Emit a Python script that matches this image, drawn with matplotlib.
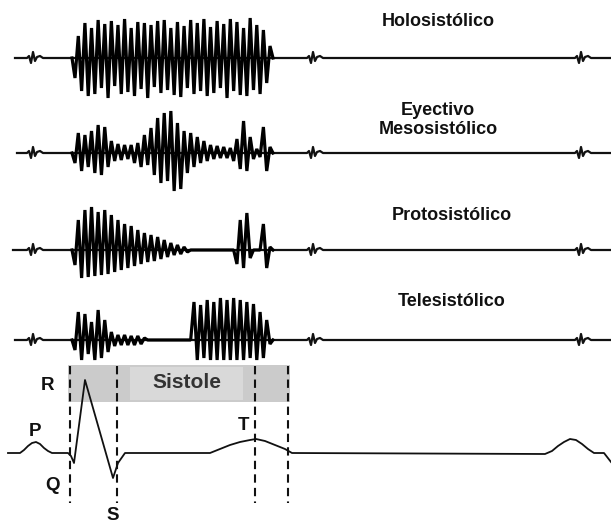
import numpy as np
import matplotlib.pyplot as plt

plt.rcParams['font.family'] = ['Liberation Sans', 'DejaVu Sans']

# murmur amplitudes (px above baseline), sampled evenly over systole
holo_amp = [-20, 22, -33, 35, -38, 30, -36, 38, -30, 34, -40, 37, -28, 33, -36,
            39, -34, 30, -38, 36, -31, 35, -40, 33, -29, 37, -35, 38, -32, 30,
            -37, 36, -39, 32, -30, 38, -36, 35, -33, 39, -38, 31, -35, 37, -30,
            34, -40, 39, -33, 36, -37, 30, -38, 40, -32, 33, -36, 28, -25, 12]
eyec_amp = [-10, 20, -18, 18, -14, 22, -20, 28, -22, 26, -14, 12, -8, 9, -7,
            8, -6, 8, -10, 10, -14, 18, -12, 25, -22, 35, -30, 40, -28, 42,
            -38, 30, -36, 22, -20, 20, -14, 16, -10, 12, -8, 8, -6, 7, -5,
            6, -5, 5, -8, 14, -16, 32, -18, 16, -6, 4, -4, 26, -18, 6]
proto_amp = [-15, 30, -28, 40, -27, 43, -26, 38, -25, 40, -24, 35, -22, 30, -20,
             26, -18, 24, -16, 20, -14, 17, -12, 15, -11, 13, -9, 10, -7, 7,
             -5, 5, -4, 3, -2, 0, 0, 0, 0, 0, 0, 0, 0, 0, 0,
             0, 0, 0, 0, -14, 30, -18, 37, -8, 0, 0, 0, 26, -18, 3]
tele_amp = [-10, 28, -20, 26, -14, 18, -20, 30, -18, 20, -12, 8, -6, 5, -5,
            5, -5, 4, -5, 4, -4, 2, 0, 0, 0, 0, 0, 0, 0, 0,
            0, 0, 0, 0, 0, 0, 38, -20, 35, -18, 40, -20, 38, -20, 42,
            -20, 40, -20, 42, -20, 40, -20, 38, -18, 36, -20, 28, -18, 20, -4]

murmurs = [holo_amp, eyec_amp, proto_amp, tele_amp]
names = ["Holosistólico", "Eyectivo\nMesosistólico", "Protosistólico", "Telesistólico"]
baselines = [58, 153, 250, 340]
trace_start = [15, 17, 13, 15]

# heart sound blips
sound_t = [32, 312, 580]
blip_dt = [-5, -3, -1, 1, 3, 5, 8, 11]
blip_amp = [0, 2, -5, 6, -3, 1, 2, 0]

# ECG (time, amplitude px)
ecg_t = [8, 20, 24, 28, 32, 36, 40, 44, 48, 52, 68, 71, 74, 85, 113, 118, 125,
         210, 220, 230, 240, 250, 256, 265, 275, 285, 292, 545, 552, 558, 564,
         570, 576, 582, 588, 594, 604, 611]
ecg_v = [0, 0, 3, 7, 10, 11, 9, 5, 2, 0, 0, -3, -10, 73, -25, -10, 0,
         0, 4, 8, 11, 13, 14, 12, 8, 4, 0, -1, 2, 7, 11, 14, 13, 9, 4, 0, 0, -9]
ecg_base = 453

fig = plt.figure(figsize=(6.11, 5.27), dpi=100)
ax = fig.add_axes([0, 0, 1, 1])
ax.set_xlim(0, 611)
ax.set_ylim(527, 0)
ax.axis('off')

mt = np.linspace(75, 270, len(holo_amp))
for amp, base, x0 in zip(murmurs, baselines, trace_start):
    t = [x0]
    a = [0]
    for s in sound_t:
        t += [s + d for d in blip_dt]
        a += blip_amp
    t.append(611)
    a.append(0)
    ax.plot(t, base - np.array(a), color='#111111', lw=1.6)
    # murmur drawn heavier
    ax.plot([72] + list(mt) + [273], base - np.array([0] + amp + [0]),
            color='#000000', lw=2.3, solid_joinstyle='bevel')

tkw = dict(ha='center', va='center', fontsize=13, fontweight='bold', color='#111')
ax.text(438, 22, names[0], **tkw)
ax.text(438, 120, names[1], linespacing=1.2, **tkw)
ax.text(452, 215, names[2], **tkw)
ax.text(452, 302, names[3], **tkw)

# systole band
ax.axvspan(68, 290, ymin=1 - 402 / 527, ymax=1 - 365 / 527, color='#cbcbcb', lw=0, zorder=0)
ax.axvspan(130, 243, ymin=1 - 400 / 527, ymax=1 - 367 / 527, color='#d9d9d9', lw=0, zorder=0)
ax.text(187, 383, "Sistole", ha='center', va='center', fontsize=15, fontweight='bold', color='#333')

for x in [70, 117, 255, 288]:
    ax.plot([x, x], [366, 503], color='#111', lw=1.5, ls=(0, (4, 2.5)))

ax.plot(ecg_t, ecg_base - np.array(ecg_v), color='#111', lw=1.3)

for lab, x, y in [("R", 47, 385), ("P", 35, 432), ("Q", 53, 485), ("S", 113, 515), ("T", 243, 425)]:
    ax.text(x, y, lab, ha='center', va='center', fontsize=13.5, fontweight='bold', color='#111')

fig.savefig("out.png", dpi=100)
